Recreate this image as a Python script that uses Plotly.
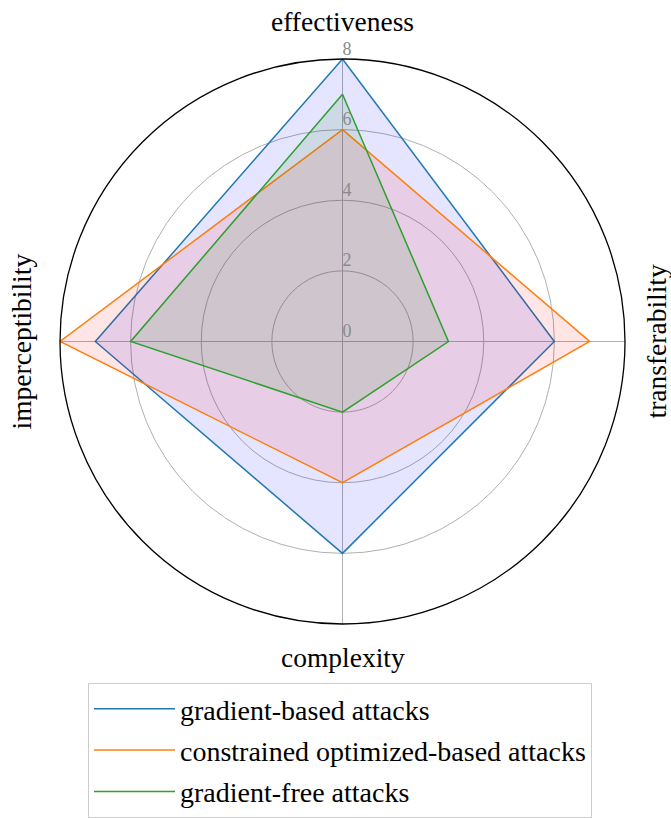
import plotly.graph_objects as go

# ---- data ----
categories = ["effectiveness", "transferability", "complexity", "imperceptibility"]
series_names = ["gradient-based attacks", "constrained optimized-based attacks", "gradient-free attacks"]
gradient_based = [8, 6, 6, 7]
constrained_optimized = [6, 7, 4, 8]
gradient_free = [7, 3, 2, 6]
radial_ticks = [0, 2, 4, 6, 8]
radial_tick_labels = ["0", "2", "4", "6", "8"]

# ---- style ----
line_colors = ["#1f77b4", "#ff7f0e", "#2ca02c"]
fill_colors = ["rgba(0,0,255,0.1)", "rgba(255,0,0,0.1)", "rgba(0,128,0,0.1)"]
FONT = "Liberation Serif, Times New Roman, serif"

W, H = 671, 818
cx, cy, R = 342.5, 341.5, 282.5  # polar centre and radius in pixels


def px(x, y):
    return x / W, 1 - y / H


fig = go.Figure()
for name, vals, lc, fc in zip(series_names, [gradient_based, constrained_optimized, gradient_free],
                              line_colors, fill_colors):
    r = list(vals) + list(vals[:1])
    th = categories + categories[:1]
    fig.add_trace(go.Scatterpolar(r=r, theta=th, mode="none", fill="toself", fillcolor=fc,
                                  showlegend=False, hoverinfo="skip", legendgroup=name))
    fig.add_trace(go.Scatterpolar(r=r, theta=th, mode="lines", line=dict(color=lc, width=1.5),
                                  name=name, legendgroup=name))

fig.add_trace(go.Scatterpolar(r=radial_ticks, theta=[categories[0]] * len(radial_ticks), mode="text",
                              text=radial_tick_labels, textposition="top right",
                              textfont=dict(family=FONT, size=18, color="#8a8a8a"),
                              showlegend=False, hoverinfo="skip", cliponaxis=False))

# category labels
label_pos = [(cx, 22, 0), (656, cy, -90), (cx, 657, 0), (21, cy, -90)]
for cat, (x, y, ang) in zip(categories, label_pos):
    ax, ay = px(x, y)
    fig.add_annotation(x=ax, y=ay, xref="paper", yref="paper", text=cat, showarrow=False,
                       textangle=ang, xanchor="center", yanchor="middle",
                       font=dict(family=FONT, size=27.5, color="black"))

x0, y0 = px(cx - R, cy + R)
x1, y1 = px(cx + R, cy - R)
lx, _ = px(88, 695)

fig.update_layout(
    width=W, height=H,
    margin=dict(l=0, r=0, t=0, b=0, autoexpand=False),
    paper_bgcolor="white",
    font=dict(family=FONT, color="black"),
    polar=dict(
        domain=dict(x=[x0, x1], y=[y0, y1]),
        bgcolor="white",
        radialaxis=dict(range=[0, 8], tickvals=[2, 4, 6], showticklabels=False, showline=False,
                        ticks="", gridcolor="#b0b0b0", gridwidth=1),
        angularaxis=dict(type="category", categoryarray=categories, direction="clockwise",
                         rotation=90, showticklabels=False, ticks="", showline=True,
                         linecolor="black", linewidth=1.3, gridcolor="#b0b0b0", gridwidth=1),
    ),
    showlegend=True,
    legend=dict(x=lx, y=0, xanchor="left", yanchor="bottom", bordercolor="#cccccc", borderwidth=1,
                bgcolor="white", font=dict(family=FONT, size=28, color="black"),
                traceorder="grouped", tracegroupgap=2, itemwidth=81),
)

fig.write_html("out.html", config={"displayModeBar": False},
               post_script="document.body.style.margin='0px';document.body.style.overflow='hidden';")
